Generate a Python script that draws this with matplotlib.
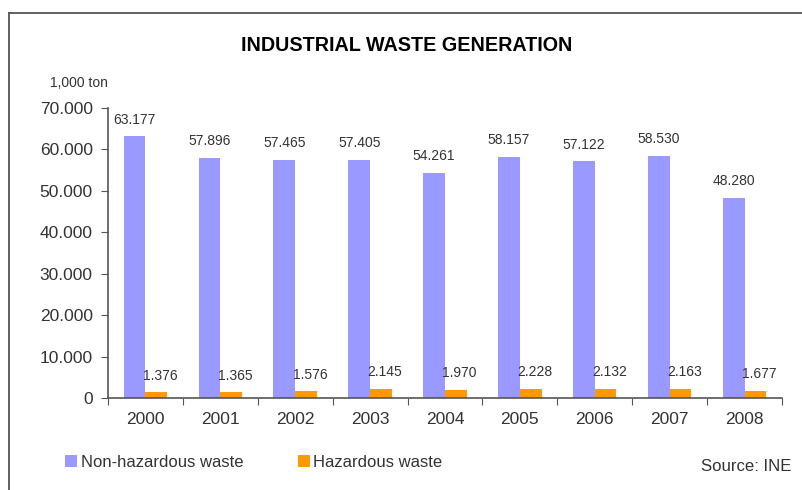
import matplotlib.pyplot as plt
import numpy as np
from matplotlib.lines import Line2D
from matplotlib.ticker import FuncFormatter

plt.rcParams['font.family'] = ['Liberation Sans', 'DejaVu Sans']

years = ['2000', '2001', '2002', '2003', '2004', '2005', '2006', '2007', '2008']
non_hazardous = [63177, 57896, 57465, 57405, 54261, 58157, 57122, 58530, 48280]
hazardous = [1376, 1365, 1576, 2145, 1970, 2228, 2132, 2163, 1677]

BLUE = '#9999FF'
ORANGE = '#FF9900'
TEXT = '#333333'


def dotted_thousands(v, pos=None):
    # 57896 -> "57.896"
    return '{:,.0f}'.format(v).replace(',', '.')


fig = plt.figure(figsize=(8.03, 4.90), dpi=100)
ax = fig.add_axes([0.1345, 0.1878, 0.8393, 0.5918])

x = np.arange(len(years))
w = 0.29
ax.bar(x - w / 2, non_hazardous, w, color=BLUE, linewidth=0)
ax.bar(x + w / 2, hazardous, w, color=ORANGE, linewidth=0)

for xi, v in zip(x, non_hazardous):
    ax.annotate(dotted_thousands(v), (xi - w / 2, v), xytext=(0, 7),
                textcoords='offset points', ha='center', va='bottom',
                fontsize=10, color=TEXT)
for xi, v in zip(x, hazardous):
    ax.annotate(dotted_thousands(v), (xi + w / 2 + 0.05, v), xytext=(0, 7),
                textcoords='offset points', ha='center', va='bottom',
                fontsize=10, color=TEXT)

ax.set_xlim(-0.5, len(years) - 0.5)
ax.set_ylim(0, 70000)
ax.set_yticks(np.arange(0, 70001, 10000))
ax.yaxis.set_major_formatter(FuncFormatter(dotted_thousands))

# year labels sit between the category boundary ticks
ax.set_xticks(np.arange(-0.5, len(years), 1.0))
ax.set_xticklabels([])
ax.set_xticks(x, minor=True)
ax.set_xticklabels(years, minor=True)
ax.tick_params(axis='x', which='minor', length=0, pad=10, labelsize=12.5,
               labelcolor=TEXT)
ax.tick_params(axis='x', which='major', length=5, direction='out',
               color='#555555')
ax.tick_params(axis='y', length=5, direction='out', color='#555555',
               labelsize=12.5, labelcolor=TEXT, pad=6)

for side in ('top', 'right'):
    ax.spines[side].set_visible(False)
for side in ('left', 'bottom'):
    ax.spines[side].set_color('#555555')
    ax.spines[side].set_linewidth(1.2)

fig.text(0.506, 0.908, 'INDUSTRIAL WASTE GENERATION', ha='center',
         va='center', fontsize=14.2, fontweight='bold', color='black')
fig.text(0.098, 0.831, '1,000 ton', ha='center', va='center',
         fontsize=10, color=TEXT)
fig.text(0.985, 0.047, 'Source: INE', ha='right', va='center',
         fontsize=12.1, color=TEXT)

handles = [Line2D([], [], marker='s', linestyle='none', markersize=8,
                  markerfacecolor=BLUE, markeredgewidth=0),
           Line2D([], [], marker='s', linestyle='none', markersize=8,
                  markerfacecolor=ORANGE, markeredgewidth=0)]
fig.legend(handles, ['Non-hazardous waste', 'Hazardous waste'],
           loc='center left', bbox_to_anchor=(0.063, 0.057), ncol=2,
           frameon=False, fontsize=12, handlelength=0.7,
           handletextpad=0.2, columnspacing=3.3, labelcolor=TEXT)

# outer frame: only the left and top edges show
fig.add_artist(Line2D([0.0106, 0.0106], [0.0, 0.974], color='#555555',
                      linewidth=1.3, transform=fig.transFigure))
fig.add_artist(Line2D([0.0106, 1.0], [0.974, 0.974], color='#555555',
                      linewidth=1.3, transform=fig.transFigure))

fig.savefig('out.png', dpi=100)
